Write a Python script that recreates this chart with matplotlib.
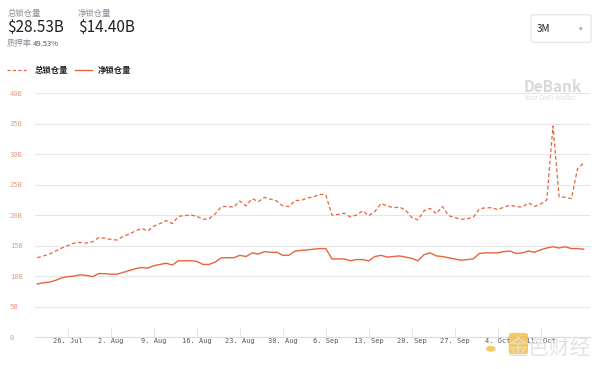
import datetime as dt
import matplotlib
matplotlib.use("Agg")
import matplotlib.pyplot as plt
import matplotlib.dates as mdates
from matplotlib.patches import FancyBboxPatch, Circle

plt.rcParams['font.family'] = ['Noto Sans CJK SC', 'DejaVu Sans']

# daily values, 21 Jul - 18 Oct (billions USD)
start = dt.date(2021, 7, 21)
total_locked = [13.0, 13.3, 13.6, 14.1, 14.6, 15.0, 15.4, 15.5, 15.4, 15.6,
                16.3, 16.2, 16.0, 15.9, 16.5, 16.9, 17.4, 17.8, 17.4, 18.2,
                18.6, 19.1, 18.6, 19.8, 19.9, 20.0, 19.8, 19.3, 19.4, 20.2,
                21.4, 21.4, 21.3, 22.3, 21.5, 22.7, 22.2, 22.9, 22.6, 22.3,
                21.5, 21.4, 22.4, 22.4, 22.8, 23.0, 23.4, 23.3, 20.0, 20.1,
                20.3, 19.7, 20.0, 20.7, 19.9, 20.6, 21.9, 21.5, 21.2, 21.3,
                20.8, 19.6, 19.2, 20.7, 21.1, 20.2, 21.4, 19.9, 19.6, 19.3,
                19.4, 19.6, 21.0, 21.2, 21.2, 20.9, 21.3, 21.6, 21.4, 21.3,
                22.0, 21.4, 21.8, 22.5, 34.6, 23.0, 22.9, 22.7, 27.6, 28.53]
net_locked = [8.7, 8.9, 9.0, 9.3, 9.7, 9.9, 10.0, 10.2, 10.1, 9.9,
              10.4, 10.4, 10.3, 10.3, 10.6, 10.9, 11.2, 11.4, 11.3, 11.7,
              11.9, 12.1, 11.8, 12.5, 12.5, 12.5, 12.4, 11.9, 11.9, 12.3,
              13.0, 13.0, 13.0, 13.4, 13.2, 13.8, 13.6, 14.0, 13.9, 13.9,
              13.4, 13.4, 14.1, 14.2, 14.3, 14.4, 14.5, 14.5, 12.8, 12.8,
              12.8, 12.5, 12.7, 12.7, 12.5, 13.2, 13.4, 13.1, 13.2, 13.3,
              13.1, 12.9, 12.5, 13.5, 13.8, 13.3, 13.2, 13.0, 12.8, 12.6,
              12.7, 12.8, 13.7, 13.8, 13.8, 13.8, 14.0, 14.1, 13.7, 13.8,
              14.1, 13.9, 14.3, 14.6, 14.8, 14.6, 14.8, 14.5, 14.5, 14.40]
dates = [start + dt.timedelta(days=i) for i in range(len(total_locked))]

tick_dates = [dt.date(2021, 7, 26) + dt.timedelta(weeks=w) for w in range(12)]
tick_labels = ["26. Jul", "2. Aug", "9. Aug", "16. Aug", "23. Aug", "30. Aug",
               "6. Sep", "13. Sep", "20. Sep", "27. Sep", "4. Oct", "11. Oct"]
y_ticks = [0, 5, 10, 15, 20, 25, 30, 35, 40]
y_labels = ["0", "5B", "10B", "15B", "20B", "25B", "30B", "35B", "40B"]

line_col = "#e8643c"

fig = plt.figure(figsize=(6, 3.69), dpi=100)
ax = fig.add_axes([0.058, 0.0867, 0.925, 0.661])

ax.plot(dates, total_locked, color=line_col, lw=0.9, ls=(0, (3, 2)))
ax.plot(dates, net_locked, color=line_col, lw=1.0)

ax.set_ylim(0, 40)
ax.set_xlim(mdates.date2num(start) - 0.4, mdates.date2num(start) + 90)
ax.set_yticks(y_ticks)
ax.set_yticklabels(y_labels, family="DejaVu Sans Mono", fontsize=5, color="#e39a86")
ax.set_xticks(tick_dates)
ax.set_xticklabels(tick_labels, family="DejaVu Sans Mono", fontsize=5, color="#555555")
ax.tick_params(axis="y", length=0, pad=18)
ax.tick_params(axis="x", length=7, width=0.5, color="#d8dde6", pad=1, direction="in")
for lab in ax.get_yticklabels():
    lab.set_horizontalalignment("left")
ax.grid(axis="y", color="#e6e6e6", lw=0.8)
ax.set_axisbelow(True)
for s in ["top", "right", "left"]:
    ax.spines[s].set_visible(False)
ax.spines["bottom"].set_color("#d8dde6")
ax.spines["bottom"].set_linewidth(0.8)

# header
fig.text(0.012, 0.963, "总锁仓量", fontsize=6, color="#8a8f99", va="center")
fig.text(0.012, 0.925, "$28.53B", fontsize=11, color="#222222", va="center")
fig.text(0.130, 0.963, "净锁仓量", fontsize=6, color="#8a8f99", va="center")
fig.text(0.130, 0.925, "$14.40B", fontsize=11, color="#222222", va="center")
fig.text(0.012, 0.882, "质押率", fontsize=6, color="#8a8f99", va="center")
fig.text(0.055, 0.882, "49.53%", fontsize=5.5, color="#555555", va="center")

# range selector
box = FancyBboxPatch((0.885, 0.885), 0.1, 0.075, boxstyle="round,pad=0,rounding_size=0.005",
                     transform=fig.transFigure, facecolor="white", edgecolor="#e3e3e3", lw=0.8)
fig.patches.append(box)
fig.text(0.895, 0.922, "3M", fontsize=7, color="#222222", va="center")
fig.text(0.968, 0.922, "▾", fontsize=5, color="#999999", va="center", ha="center")

# legend
fig.lines.append(plt.Line2D([0.012, 0.045], [0.81, 0.81], transform=fig.transFigure,
                            color=line_col, lw=0.9, ls=(0, (2.5, 1.8))))
fig.text(0.058, 0.81, "总锁仓量", fontsize=6, color="#222222", va="center", weight="bold")
fig.lines.append(plt.Line2D([0.125, 0.153], [0.81, 0.81], transform=fig.transFigure,
                            color=line_col, lw=1.0))
fig.text(0.163, 0.81, "净锁仓量", fontsize=6, color="#222222", va="center", weight="bold")

# watermarks
fig.text(0.872, 0.765, "DeBank", fontsize=11, color="#d8d8d8", va="center", weight="bold")
fig.text(0.872, 0.735, "Your DeFi Wallet", fontsize=5, color="#dddddd", va="center")
logo = FancyBboxPatch((0.848, 0.04), 0.032, 0.058, boxstyle="round,pad=0,rounding_size=0.006",
                      transform=fig.transFigure, facecolor="#f2b731", edgecolor="none", alpha=0.75)
fig.patches.append(logo)
fig.patches.append(Circle((0.818, 0.055), 0.008, transform=fig.transFigure,
                          facecolor="#f2b731", edgecolor="none", alpha=0.75))
fig.text(0.985, 0.058, "金色财经", fontsize=15, color="#e0e0e0", va="center", ha="right",
         alpha=0.9)

fig.savefig("out.png", dpi=100)
